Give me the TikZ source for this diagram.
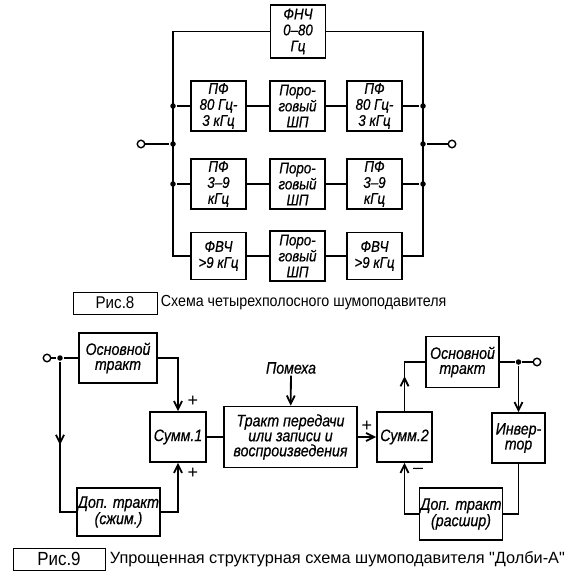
\documentclass[tikz,border=0pt]{standalone}
\usepackage{fontspec}
\setmainfont{Liberation Sans}
\newfontfamily\schfont[Ligatures=TeX,FakeStretch=0.86,FakeBold=0.6]{Liberation Sans}
\newfontfamily\capfont[Ligatures=TeX,FakeStretch=0.89]{Liberation Sans}
\newfontfamily\capfontq{Liberation Sans}
\usetikzlibrary{positioning,arrows.meta,decorations.markings}

\tikzstyle{blok}=[rectangle,draw,fill=white,line width=1.8pt,align=center,inner sep=1pt,font=\schfont\itshape\fontsize{16.5pt}{15pt}\selectfont]
\tikzstyle{filt}=[blok,minimum width=55pt,minimum height=50pt,font=\schfont\itshape\fontsize{15.5pt}{16pt}\selectfont]
\tikzstyle{junc}=[circle,fill,inner sep=0pt,minimum size=5.5pt]
\tikzstyle{terminal}=[circle,draw,fill=white,line width=1.4pt,inner sep=0pt,minimum size=7.5pt]
\tikzstyle{sign}=[inner sep=0pt,font=\fontsize{18pt}{18pt}\selectfont]
\tikzstyle{capbox}=[rectangle,draw,line width=0.8pt,minimum height=22pt,inner sep=0pt,font=\capfont\fontsize{17pt}{17pt}\selectfont]
\tikzstyle{captxt}=[anchor=west,inner sep=0pt,font=\capfont\fontsize{16pt}{16pt}\selectfont]
\tikzstyle{midarr}=[postaction={decorate},decoration={markings,mark=at position 0.5 with {\arrow{>}}}]

\begin{document}
\begin{tikzpicture}[x=1pt,y=1pt,line width=1.8pt,>={Straight Barb[length=8pt,width=8pt]}]
		\useasboundingbox (0,0) rectangle (586,-575);
		% Рис.8
		\node[filt,minimum height=53pt] (fnch) at (298,-31.5) {ФНЧ\\0--80\\Гц};
		\node[filt] (pf1_in) at (218.5,-106) {ПФ\\80 Гц-\\3 кГц};
		\node[filt,right of=pf1_in,node distance=79pt] (shp1) {Поро-\\говый\\ШП};
		\node[filt,right of=shp1,node distance=77pt] (pf1_out) {ПФ\\80 Гц-\\3 кГц};
		\node[filt,below of=pf1_in,node distance=78pt] (pf2_in) {ПФ\\3--9\\кГц};
		\node[filt,right of=pf2_in,node distance=79pt] (shp2) {Поро-\\говый\\ШП};
		\node[filt,right of=shp2,node distance=77pt] (pf2_out) {ПФ\\3--9\\кГц};
		\node[filt,below of=pf2_in,node distance=72pt,minimum height=47pt] (fvch_in) {ФВЧ\\>9 кГц};
		\node[filt,right of=fvch_in,node distance=79pt] (shp3) {Поро-\\говый\\ШП};
		\node[filt,right of=shp3,node distance=77pt,minimum height=47pt] (fvch_out) {ФВЧ\\>9 кГц};
		\coordinate (bus_lt) at (173,-31.5);
		\coordinate (bus_lb) at (173,-256);
		\coordinate (bus_rt) at (423,-31.5);
		\coordinate (bus_rb) at (423,-256);
		\node[junc] (jl1) at (173,-106) {};
		\node[junc] (jl2) at (173,-144) {};
		\node[junc] (jl3) at (173,-184) {};
		\node[junc] (jr1) at (423,-106) {};
		\node[junc] (jr2) at (423,-144) {};
		\node[junc] (jr3) at (423,-184) {};
		\node[terminal] (in8) at (141,-144) {};
		\node[terminal] (out8) at (452,-144) {};
		\draw (fvch_in) -- (bus_lb) -- (bus_lt) -- (fnch);
		\draw (fnch) -- (bus_rt) -- (bus_rb) -- (fvch_out);
		\draw (in8) -- (jl2);
		\draw (jr2) -- (out8);
		\draw (jl1) -- (pf1_in) -- (shp1) -- (pf1_out) -- (jr1);
		\draw (jl3) -- (pf2_in) -- (shp2) -- (pf2_out) -- (jr3);
		\draw (fvch_in) -- (shp3) -- (fvch_out);
		\node[capbox,minimum width=84pt] (fig8) at (115,-303) {Рис.8};
		\node[captxt] (fig8_txt) at (160,-303) {Схема четырехполосного шумоподавителя};
		% Рис.9
		\node[terminal] (in9) at (47,-358) {};
		\node[junc] (j9_in) at (60,-358) {};
		\node[blok,minimum width=78pt,minimum height=50pt] (osn_comp) at (118,-358) {Основной\\тракт};
		\node[blok,minimum width=79pt,minimum height=48pt] (dop_comp) at (118.5,-512) {Доп. тракт\\(сжим.)};
		\node[blok,minimum width=56pt,minimum height=50pt] (summ1) at (178,-437) {Сумм.1};
		\node[blok,minimum width=133pt,minimum height=61pt] (trakt) at (290.5,-437) {Тракт передачи\\или записи и\\воспроизведения};
		\node[inner sep=1pt,font=\schfont\itshape\fontsize{16.5pt}{16pt}\selectfont] (pomeha) at (291,-368) {Помеха};
		\node[blok,minimum width=55pt,minimum height=50pt] (summ2) at (404.5,-437) {Сумм.2};
		\node[blok,minimum width=73pt,minimum height=51pt] (osn_exp) at (462.5,-362) {Основной\\тракт};
		\node[junc] (j9_out) at (518.5,-362) {};
		\node[terminal] (out9) at (537,-362) {};
		\node[blok,minimum width=53pt,minimum height=50pt] (inv) at (518.5,-438) {Инвер-\\тор};
		\node[blok,minimum width=74pt,minimum height=52pt] (dop_exp) at (461,-514) {Доп. тракт\\(расшир)};
		\draw (in9) -- (j9_in) -- (osn_comp);
		\draw[midarr] (j9_in) |- (dop_comp);
		\draw[->] (osn_comp) -| (summ1);
		\draw[->] (dop_comp) -| (summ1);
		\draw (summ1) -- (trakt);
		\draw[->] (pomeha) -- (trakt);
		\draw[->] (trakt) -- (summ2);
		\draw[midarr] (summ2) |- (osn_exp);
		\draw (osn_exp) -- (j9_out) -- (out9);
		\draw[->] (j9_out) -- (inv);
		\draw (inv) |- (dop_exp);
		\draw[->] (dop_exp) -| (summ2);
		\node[sign] (plus_a) at (193,-401) {+};
		\node[sign] (plus_b) at (193,-473) {+};
		\node[sign] (plus_c) at (367,-426) {+};
		\node[sign] (minus_c) at (418,-471) {--};
		\node[capbox,minimum width=92pt,font=\capfont\fontsize{19pt}{19pt}\selectfont] (fig9) at (59,-559) {Рис.9};
		\node[captxt,font=\capfontq\fontsize{16.3pt}{16pt}\selectfont] (fig9_txt) at (109,-559) {Упрощенная структурная схема шумоподавителя "Долби-А"};
	\end{tikzpicture}
\end{document}
